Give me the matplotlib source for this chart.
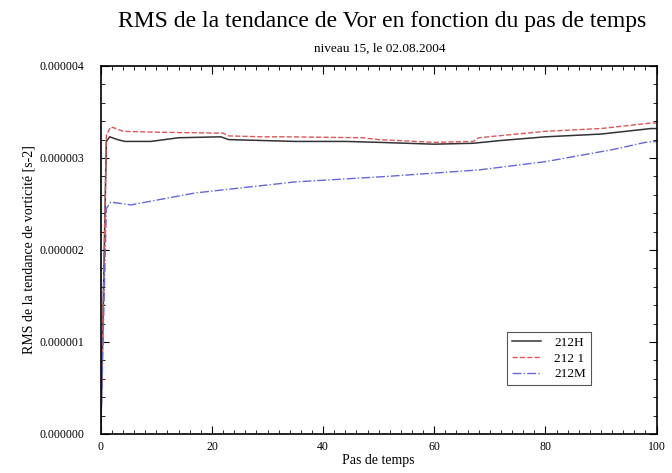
import matplotlib
matplotlib.use("Agg")
import matplotlib.pyplot as plt
from matplotlib.ticker import MultipleLocator, FormatStrFormatter

# valeurs (RMS en s-2)
pas_h = [0, 1.0, 1.6, 3, 4.3, 9, 14, 21.6, 23, 29, 35, 44, 50, 60, 67, 72, 80, 90, 99, 100]
rms_h = [0.0, 3.18e-6, 3.23e-6, 3.2e-6, 3.18e-6, 3.18e-6, 3.22e-6, 3.23e-6, 3.2e-6,
         3.19e-6, 3.18e-6, 3.18e-6, 3.17e-6, 3.15e-6, 3.16e-6, 3.19e-6, 3.23e-6, 3.26e-6, 3.32e-6, 3.32e-6]

pas_1 = [0, 1.0, 1.8, 4, 10, 22, 23, 29, 33.6, 47, 50, 60, 67, 68, 80, 90, 99, 100]
rms_1 = [0.0, 3.25e-6, 3.34e-6, 3.29e-6, 3.28e-6, 3.27e-6, 3.24e-6, 3.23e-6, 3.23e-6,
         3.22e-6, 3.2e-6, 3.17e-6, 3.18e-6, 3.22e-6, 3.29e-6, 3.32e-6, 3.38e-6, 3.38e-6]

pas_m = [0, 1.0, 1.8, 5.4, 17, 35, 51.6, 68, 80, 92, 98, 100]
rms_m = [0.0, 2.45e-6, 2.52e-6, 2.49e-6, 2.62e-6, 2.74e-6, 2.8e-6, 2.87e-6, 2.96e-6,
         3.09e-6, 3.17e-6, 3.18e-6]

plt.rcParams["font.family"] = ["Liberation Serif", "DejaVu Serif"]

fig = plt.figure(figsize=(6.72, 4.73), dpi=100)
ax = fig.add_axes([0.150, 0.0825, 0.827, 0.778])

ax.plot(pas_h, rms_h, color="#333333", linewidth=1.1, label="212H")
ax.plot(pas_1, rms_1, color="#e05555", linewidth=1.0, linestyle="--", label="212 1")
ax.plot(pas_m, rms_m, color="#6666dd", linewidth=1.0, linestyle="-.", label="212M")

ax.set_xlim(0, 100)
ax.set_ylim(0, 4e-6)
ax.xaxis.set_major_locator(MultipleLocator(20))
ax.xaxis.set_minor_locator(MultipleLocator(2))
ax.yaxis.set_major_locator(MultipleLocator(1e-6))
ax.yaxis.set_minor_locator(MultipleLocator(2e-7))
ax.yaxis.set_major_formatter(FormatStrFormatter("%.6f"))
ax.tick_params(which="both", direction="in", top=True, right=True, labelsize=8.5)
ax.tick_params(which="major", length=6, width=0.8)
ax.tick_params(axis="y", which="major", pad=12)
ax.tick_params(axis="x", which="major", pad=5)
ax.tick_params(which="minor", length=3, width=0.6)
for s in ax.spines.values():
    s.set_linewidth(1.2)

ax.set_xlabel("Pas de temps", fontsize=10, labelpad=1)
ax.set_ylabel("RMS de la tendance de vorticité [s-2]", fontsize=10, labelpad=3)

fig.text(0.568, 0.954, "RMS de la tendance de Vor en fonction du pas de temps",
         ha="center", va="center", fontsize=17)
fig.text(0.565, 0.898, "niveau 15, le 02.08.2004", ha="center", va="center", fontsize=9.5)

leg = ax.legend(loc="lower right", bbox_to_anchor=(0.894, 0.114), fontsize=9.5, fancybox=False,
                framealpha=1, edgecolor="#555555", handlelength=2.2, borderpad=0.4,
                labelspacing=0.25, handletextpad=1.0)
leg.get_frame().set_linewidth(0.8)

fig.savefig("out.png", dpi=100)
